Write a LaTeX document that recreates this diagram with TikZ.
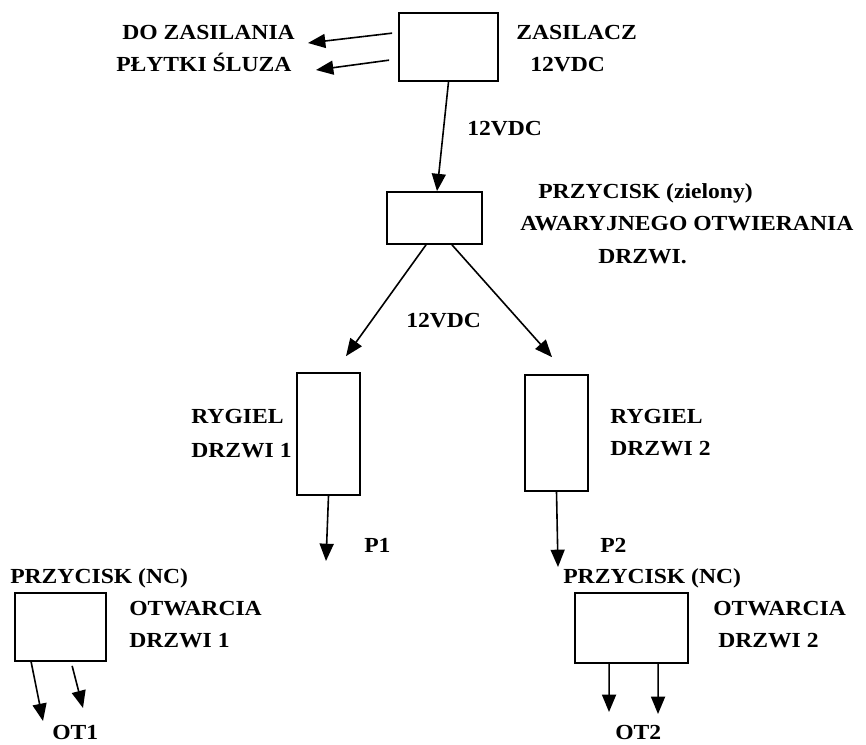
\documentclass[tikz,border=0pt]{standalone}
\usepackage{fontspec}
\setmainfont{Liberation Serif}[FakeStretch=1.1]
\usetikzlibrary{arrows.meta,fit}

\begin{document}
\begin{tikzpicture}[x=0.75pt,y=-0.75pt,
  box/.style={draw, line width=1.3pt, inner sep=0pt},
  lbl/.style={anchor=base west, inner sep=0pt, font=\fontsize{16.1}{19}\selectfont\bfseries},
  wire/.style={line width=1.2pt, -{Triangle[length=13pt,width=10.5pt]}}]
\useasboundingbox (0,0) rectangle (866,744);
\node[box, fit={(399,13)(498,81)}] (zas) {};
\node[box, fit={(387,192)(482,244)}] (awar) {};
\node[box, fit={(297,373)(360,495)}] (ryg1) {};
\node[box, fit={(525,375)(588,491)}] (ryg2) {};
\node[box, fit={(15,593)(106,661)}] (otw1) {};
\node[box, fit={(575,593)(688,663)}] (otw2) {};
\coordinate (do1) at (308,43);
\coordinate (do2) at (316,70);
\coordinate (p1) at (326,561);
\coordinate (p2) at (558,567);
\coordinate (ot1a) at (43,721);
\coordinate (ot1b) at (83,708);
\coordinate (ot2a) at (609,712);
\coordinate (ot2b) at (658,714);
\node[lbl] (doT1) at (122,39) {DO ZASILANIA};
\node[lbl] (doT2) at (116,71) {PŁYTKI ŚLUZA};
\node[lbl] (zasT1) at (516,39) {ZASILACZ};
\node[lbl] (zasT2) at (530,71) {12VDC};
\node[lbl] (vdcA) at (467,135) {12VDC};
\node[lbl] (awarT1) at (538,198) {PRZYCISK (zielony)};
\node[lbl] (awarT2) at (520,230) {AWARYJNEGO OTWIERANIA};
\node[lbl] (awarT3) at (598,263) {DRZWI.};
\node[lbl] (vdcB) at (406,327) {12VDC};
\node[lbl] (ryg1T1) at (191,423) {RYGIEL};
\node[lbl] (ryg1T2) at (191,457) {DRZWI 1};
\node[lbl] (ryg2T1) at (610,423) {RYGIEL};
\node[lbl] (ryg2T2) at (610,455) {DRZWI 2};
\node[lbl] (p1T) at (364,552) {P1};
\node[lbl] (p2T) at (600,552) {P2};
\node[lbl] (otw1T1) at (10,583) {PRZYCISK (NC)};
\node[lbl] (otw1T2) at (129,615) {OTWARCIA};
\node[lbl] (otw1T3) at (129,647) {DRZWI 1};
\node[lbl] (otw2T1) at (563,583) {PRZYCISK (NC)};
\node[lbl] (otw2T2) at (713,615) {OTWARCIA};
\node[lbl] (otw2T3) at (718,647) {DRZWI 2};
\node[lbl] (ot1T) at (52,739) {OT1};
\node[lbl] (ot2T) at (615,739) {OT2};
\draw[wire] ([shift={(-6,21)}]zas.north west) -- (do1);
\draw[wire] ([shift={(-9,48)}]zas.north west) -- (do2);
\draw[wire] (zas.south) -- ([shift={(2.5,0)}]awar.north);
\draw[wire] ([shift={(-8.5,0)}]awar.south) -- ([shift={(17.5,-16)}]ryg1.north);
\draw[wire] ([shift={(17.5,0)}]awar.south) -- ([shift={(-4.5,-17)}]ryg2.north);
\draw[wire] (ryg1.south) -- (p1);
\draw[wire] (ryg2.south) -- (p2);
\draw[wire] ([shift={(17,0)}]otw1.south west) -- (ot1a);
\draw[wire] ([shift={(58,4)}]otw1.south west) -- (ot1b);
\draw[wire] ([shift={(35,0)}]otw2.south west) -- (ot2a);
\draw[wire] ([shift={(84,0)}]otw2.south west) -- (ot2b);
\end{tikzpicture}
\end{document}
